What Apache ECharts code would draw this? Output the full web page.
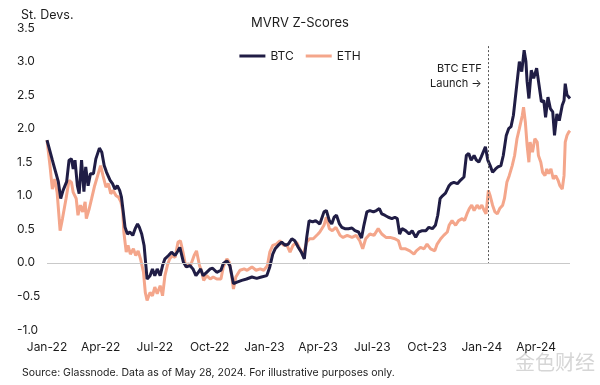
<!DOCTYPE html>
<html><head><meta charset="utf-8">
<script src="https://cdn.jsdelivr.net/npm/echarts@6/dist/echarts.min.js"></script>
<style>html,body{margin:0;padding:0;background:#fff}#c{width:600px;height:385px}</style>
</head><body><div id="c"></div>
<script>
const chartTitle = 'MVRV Z-Scores';
const yAxisName = 'St. Devs.';
const sourceNote = 'Source: Glassnode. Data as of May 28, 2024. For illustrative purposes only.';
const xTickDates = ['2022-01-01','2022-04-01','2022-07-01','2022-10-01','2023-01-01','2023-04-01','2023-07-01','2023-10-01','2024-01-01','2024-04-01'];
const xTickLabels = ['Jan-22','Apr-22','Jul-22','Oct-22','Jan-23','Apr-23','Jul-23','Oct-23','Jan-24','Apr-24'];
const xStart = '2022-01-01';
const xEnd = '2024-05-28';
const etfDate = '2024-01-11';
const etfLabel = 'BTC ETF\nLaunch \u2192';

const btc = [
['2022-01-01',1.83],['2022-01-10',1.53],['2022-01-14',1.40],['2022-01-20',1.21],['2022-01-24',0.96],['2022-01-28',1.08],
['2022-02-03',1.21],['2022-02-07',1.53],['2022-02-11',1.55],['2022-02-14',1.40],['2022-02-17',1.53],['2022-02-21',1.15],
['2022-02-24',1.03],['2022-02-28',1.53],['2022-03-04',1.06],['2022-03-07',1.43],['2022-03-11',1.15],['2022-03-15',1.33],
['2022-03-20',1.33],['2022-03-24',1.55],['2022-03-30',1.71],['2022-04-03',1.65],['2022-04-07',1.45],['2022-04-11',1.35],
['2022-04-17',1.23],['2022-04-21',1.18],['2022-04-25',1.10],['2022-04-29',1.15],['2022-05-03',1.08],['2022-05-06',0.98],
['2022-05-09',0.76],['2022-05-12',0.53],['2022-05-16',0.43],['2022-05-20',0.46],['2022-05-25',0.41],['2022-05-29',0.51],
['2022-06-02',0.58],['2022-06-05',0.53],['2022-06-09',0.43],['2022-06-13',0.26],['2022-06-16',-0.04],['2022-06-18',-0.24],
['2022-06-23',-0.19],['2022-06-27',-0.09],['2022-07-01',-0.19],['2022-07-05',-0.09],['2022-07-10',-0.19],['2022-07-14',-0.04],
['2022-07-18',0.06],['2022-07-24',0.11],['2022-07-29',0.16],['2022-08-04',0.11],['2022-08-09',0.18],['2022-08-12',0.23],
['2022-08-18',0.01],['2022-08-23',-0.06],['2022-08-29',-0.04],['2022-09-03',-0.09],['2022-09-08',-0.19],['2022-09-12',-0.14],
['2022-09-16',-0.09],['2022-09-20',-0.19],['2022-09-26',-0.14],['2022-10-02',-0.09],['2022-10-06',-0.08],['2022-10-13',-0.14],
['2022-10-20',-0.11],['2022-10-24',-0.01],['2022-10-30',0.03],['2022-11-04',-0.04],['2022-11-10',-0.31],['2022-11-15',-0.29],
['2022-11-24',-0.26],['2022-12-02',-0.24],['2022-12-11',-0.21],['2022-12-19',-0.23],['2022-12-27',-0.21],['2023-01-05',-0.19],
['2023-01-10',-0.06],['2023-01-15',0.13],['2023-01-19',0.21],['2023-01-24',0.26],['2023-01-30',0.31],['2023-02-05',0.26],
['2023-02-10',0.28],['2023-02-16',0.36],['2023-02-21',0.33],['2023-02-27',0.23],['2023-03-04',0.16],['2023-03-09',0.06],
['2023-03-13',0.38],['2023-03-17',0.63],['2023-03-23',0.61],['2023-03-28',0.63],['2023-04-04',0.58],['2023-04-11',0.76],
['2023-04-15',0.78],['2023-04-20',0.63],['2023-04-24',0.58],['2023-04-28',0.68],['2023-05-02',0.71],['2023-05-07',0.58],
['2023-05-11',0.53],['2023-05-16',0.51],['2023-05-22',0.51],['2023-05-28',0.52],['2023-06-02',0.48],['2023-06-08',0.46],
['2023-06-13',0.37],['2023-06-17',0.56],['2023-06-22',0.76],['2023-06-27',0.78],['2023-07-03',0.76],['2023-07-08',0.78],
['2023-07-13',0.81],['2023-07-17',0.73],['2023-07-22',0.71],['2023-07-28',0.68],['2023-08-03',0.66],['2023-08-08',0.68],
['2023-08-12',0.66],['2023-08-16',0.43],['2023-08-20',0.51],['2023-08-26',0.48],['2023-09-01',0.43],['2023-09-06',0.48],
['2023-09-12',0.38],['2023-09-17',0.46],['2023-09-23',0.48],['2023-09-29',0.48],['2023-10-04',0.53],['2023-10-10',0.51],
['2023-10-15',0.56],['2023-10-19',0.71],['2023-10-23',0.96],['2023-10-27',1.00],['2023-11-01',1.04],['2023-11-07',1.15],
['2023-11-10',1.18],['2023-11-15',1.20],['2023-11-21',1.18],['2023-11-26',1.23],['2023-12-02',1.28],['2023-12-06',1.60],
['2023-12-10',1.63],['2023-12-14',1.53],['2023-12-19',1.60],['2023-12-23',1.53],['2023-12-27',1.50],['2023-12-31',1.58],
['2024-01-03',1.60],['2024-01-07',1.73],['2024-01-11',1.53],['2024-01-15',1.45],['2024-01-19',1.35],['2024-01-24',1.40],
['2024-01-28',1.43],['2024-02-02',1.45],['2024-02-06',1.60],['2024-02-11',1.90],['2024-02-15',2.00],['2024-02-19',2.03],
['2024-02-23',2.20],['2024-02-28',2.60],['2024-03-04',3.00],['2024-03-08',2.85],['2024-03-12',3.17],['2024-03-15',3.00],
['2024-03-17',2.70],['2024-03-20',2.45],['2024-03-24',2.87],['2024-03-28',2.75],['2024-04-02',2.90],['2024-04-06',2.65],
['2024-04-10',2.40],['2024-04-14',2.42],['2024-04-17',2.17],['2024-04-21',2.47],['2024-04-25',2.30],['2024-04-29',2.25],
['2024-05-02',1.90],['2024-05-06',2.22],['2024-05-10',2.12],['2024-05-15',2.35],['2024-05-18',2.42],['2024-05-20',2.67],
['2024-05-23',2.50],['2024-05-26',2.52],['2024-05-28',2.45]
];

const eth = [
['2022-01-01',1.83],['2022-01-06',1.45],['2022-01-10',1.10],['2022-01-14',1.25],['2022-01-18',1.05],['2022-01-23',0.48],
['2022-01-27',0.66],['2022-02-02',0.96],['2022-02-07',1.23],['2022-02-11',1.20],['2022-02-14',1.05],['2022-02-19',0.96],
['2022-02-22',0.71],['2022-02-26',0.86],['2022-03-02',0.76],['2022-03-06',0.91],['2022-03-08',0.66],['2022-03-13',0.81],
['2022-03-17',0.96],['2022-03-22',1.15],['2022-03-28',1.33],['2022-04-01',1.45],['2022-04-05',1.30],['2022-04-10',1.13],
['2022-04-14',1.18],['2022-04-18',1.03],['2022-04-22',1.08],['2022-04-27',1.00],['2022-05-01',0.98],['2022-05-05',0.91],
['2022-05-08',0.78],['2022-05-10',0.46],['2022-05-14',0.16],['2022-05-17',0.26],['2022-05-21',0.13],['2022-05-26',0.21],
['2022-05-30',0.11],['2022-06-03',0.18],['2022-06-07',0.06],['2022-06-12',-0.14],['2022-06-15',-0.44],['2022-06-18',-0.56],
['2022-06-23',-0.44],['2022-06-27',-0.49],['2022-07-01',-0.36],['2022-07-05',-0.46],['2022-07-10',-0.34],['2022-07-14',-0.49],
['2022-07-18',-0.19],['2022-07-22',-0.04],['2022-07-26',0.06],['2022-07-31',0.11],['2022-08-04',0.08],['2022-08-09',0.31],
['2022-08-13',0.33],['2022-08-18',0.13],['2022-08-22',-0.06],['2022-08-26',-0.01],['2022-08-30',-0.04],['2022-09-05',0.11],
['2022-09-09',0.18],['2022-09-14',-0.04],['2022-09-18',-0.14],['2022-09-21',-0.26],['2022-09-26',-0.19],['2022-10-02',-0.24],
['2022-10-07',-0.21],['2022-10-13',-0.24],['2022-10-20',-0.24],['2022-10-24',-0.06],['2022-10-30',0.06],['2022-11-03',0.01],
['2022-11-07',-0.19],['2022-11-10',-0.39],['2022-11-14',-0.21],['2022-11-21',-0.11],['2022-11-28',-0.09],['2022-12-03',-0.11],
['2022-12-11',-0.06],['2022-12-18',-0.11],['2022-12-25',-0.09],['2022-12-31',-0.11],['2023-01-06',-0.04],['2023-01-10',0.16],
['2023-01-15',0.26],['2023-01-21',0.28],['2023-01-27',0.33],['2023-02-02',0.26],['2023-02-07',0.28],['2023-02-13',0.16],
['2023-02-18',0.26],['2023-02-24',0.31],['2023-03-03',0.18],['2023-03-07',0.11],['2023-03-13',0.31],['2023-03-18',0.36],
['2023-03-24',0.36],['2023-04-01',0.43],['2023-04-04',0.46],['2023-04-11',0.56],['2023-04-15',0.68],['2023-04-20',0.51],
['2023-04-25',0.48],['2023-05-01',0.53],['2023-05-08',0.41],['2023-05-13',0.38],['2023-05-20',0.41],['2023-05-28',0.38],
['2023-06-04',0.41],['2023-06-10',0.33],['2023-06-15',0.21],['2023-06-20',0.36],['2023-06-27',0.43],['2023-07-04',0.41],
['2023-07-11',0.51],['2023-07-17',0.43],['2023-07-24',0.38],['2023-07-31',0.38],['2023-08-08',0.36],['2023-08-14',0.33],
['2023-08-18',0.21],['2023-08-26',0.21],['2023-09-02',0.18],['2023-09-09',0.13],['2023-09-13',0.18],['2023-09-20',0.23],
['2023-09-26',0.21],['2023-10-01',0.28],['2023-10-07',0.21],['2023-10-14',0.18],['2023-10-18',0.28],['2023-10-24',0.36],
['2023-10-29',0.41],['2023-11-04',0.46],['2023-11-07',0.56],['2023-11-12',0.63],['2023-11-18',0.56],['2023-11-23',0.63],
['2023-11-29',0.66],['2023-12-03',0.63],['2023-12-07',0.73],['2023-12-11',0.81],['2023-12-15',0.86],['2023-12-19',0.78],
['2023-12-24',0.86],['2023-12-28',0.81],['2024-01-01',0.86],['2024-01-05',0.78],['2024-01-08',0.73],['2024-01-12',1.08],
['2024-01-15',1.00],['2024-01-19',0.86],['2024-01-23',0.76],['2024-01-27',0.73],['2024-01-31',0.81],['2024-02-05',0.86],
['2024-02-08',0.96],['2024-02-12',1.20],['2024-02-16',1.30],['2024-02-21',1.45],['2024-02-25',1.60],['2024-02-29',1.85],
['2024-03-04',2.00],['2024-03-09',2.20],['2024-03-11',2.32],['2024-03-14',2.10],['2024-03-17',1.75],['2024-03-20',1.50],
['2024-03-22',1.80],['2024-03-26',1.65],['2024-03-30',1.85],['2024-04-03',1.80],['2024-04-05',1.60],['2024-04-09',1.50],
['2024-04-12',1.35],['2024-04-16',1.30],['2024-04-19',1.40],['2024-04-22',1.33],['2024-04-26',1.40],['2024-04-30',1.25],
['2024-05-04',1.30],['2024-05-08',1.23],['2024-05-11',1.15],['2024-05-15',1.10],['2024-05-18',1.30],['2024-05-20',1.80],
['2024-05-23',1.90],['2024-05-26',1.95],['2024-05-28',1.97]
];

const FONT = 'Inter, "Noto Sans", sans-serif';
const TXT = '#1c1c1c';
const BTC_COLOR = '#201d45';
const ETH_COLOR = '#f4a68b';

const tp = s => { const p = s.split('-').map(Number); return Date.UTC(p[0], p[1] - 1, p[2]); };
const tickTimes = xTickDates.map(tp);
const toPts = arr => arr.map(d => [tp(d[0]), d[1]]);

const chart = echarts.init(document.getElementById('c'), null, {renderer: 'canvas'});
chart.setOption({
  animation: false,
  backgroundColor: '#fff',
  textStyle: {fontFamily: FONT},
  title: [
    {text: chartTitle, left: 'center', top: 12, textStyle: {fontFamily: FONT, fontSize: 13, fontWeight: 'normal', color: TXT}},
    {text: yAxisName, left: 16, top: 4, textStyle: {fontFamily: FONT, fontSize: 12.5, fontWeight: 'normal', color: TXT}},
    {text: sourceNote, left: 17, top: 362, textStyle: {fontFamily: FONT, fontSize: 10.5, fontWeight: 'normal', color: TXT}}
  ],
  legend: {
    top: 45, left: 'center', icon: 'rect', itemWidth: 26, itemHeight: 3, itemGap: 12,
    textStyle: {fontFamily: FONT, fontSize: 12, color: TXT},
    data: ['BTC', 'ETH']
  },
  grid: {left: 47, right: 30, top: 28, bottom: 55, containLabel: false},
  xAxis: {
    type: 'value', min: tp(xStart), max: tp(xEnd),
    axisLine: {show: false, onZero: false}, axisTick: {show: false}, splitLine: {show: false},
    axisLabel: {
      customValues: tickTimes, margin: 11, color: TXT, fontFamily: FONT, fontSize: 12, hideOverlap: false,
      showMinLabel: true, showMaxLabel: true,
      formatter: v => { let i = 0, best = Infinity; tickTimes.forEach((t, k) => { const d = Math.abs(t - v); if (d < best) { best = d; i = k; } }); return xTickLabels[i]; }
    }
  },
  yAxis: {
    type: 'value', min: -1, max: 3.5, interval: 0.5,
    axisLine: {show: false}, axisTick: {show: false}, splitLine: {show: false},
    axisLabel: {align: 'left', margin: 30, color: TXT, fontFamily: FONT, fontSize: 12, formatter: v => v.toFixed(1)}
  },
  series: [
    {
      type: 'line', name: 'zero', data: [], z: 1, silent: true,
      markLine: {
        silent: true, symbol: ['none', 'none'], label: {show: false},
        lineStyle: {color: '#c9c9c9', width: 1, type: 'solid'},
        data: [{yAxis: 0}]
      }
    },
    {
      type: 'line', name: 'BTC', data: toPts(btc), showSymbol: false, symbol: 'none', z: 3,
      lineStyle: {color: BTC_COLOR, width: 3}, itemStyle: {color: BTC_COLOR},
      markLine: {
        silent: true, symbol: ['none', 'none'], label: {show: false},
        lineStyle: {color: '#555', width: 1, type: [2, 2]},
        data: [[{coord: [tp(etfDate), 3.23]}, {coord: [tp(etfDate), 0]}]]
      },
      markPoint: {
        silent: true, symbol: 'circle', symbolSize: 0,
        data: [{coord: [tp(etfDate), 2.78]}],
        label: {show: true, position: 'left', distance: 6, formatter: etfLabel, align: 'right',
          fontFamily: FONT, fontSize: 11, lineHeight: 15, color: TXT}
      }
    },
    {
      type: 'line', name: 'ETH', data: toPts(eth), showSymbol: false, symbol: 'none', z: 2,
      lineStyle: {color: ETH_COLOR, width: 3}, itemStyle: {color: ETH_COLOR}
    }
  ],
  graphic: [
    {type: 'text', left: 515, top: 352, style: {text: '金色财经', font: '20px "Noto Sans CJK SC"', fill: '#d6d6d6'}}
  ]
});
</script>
</body></html>
